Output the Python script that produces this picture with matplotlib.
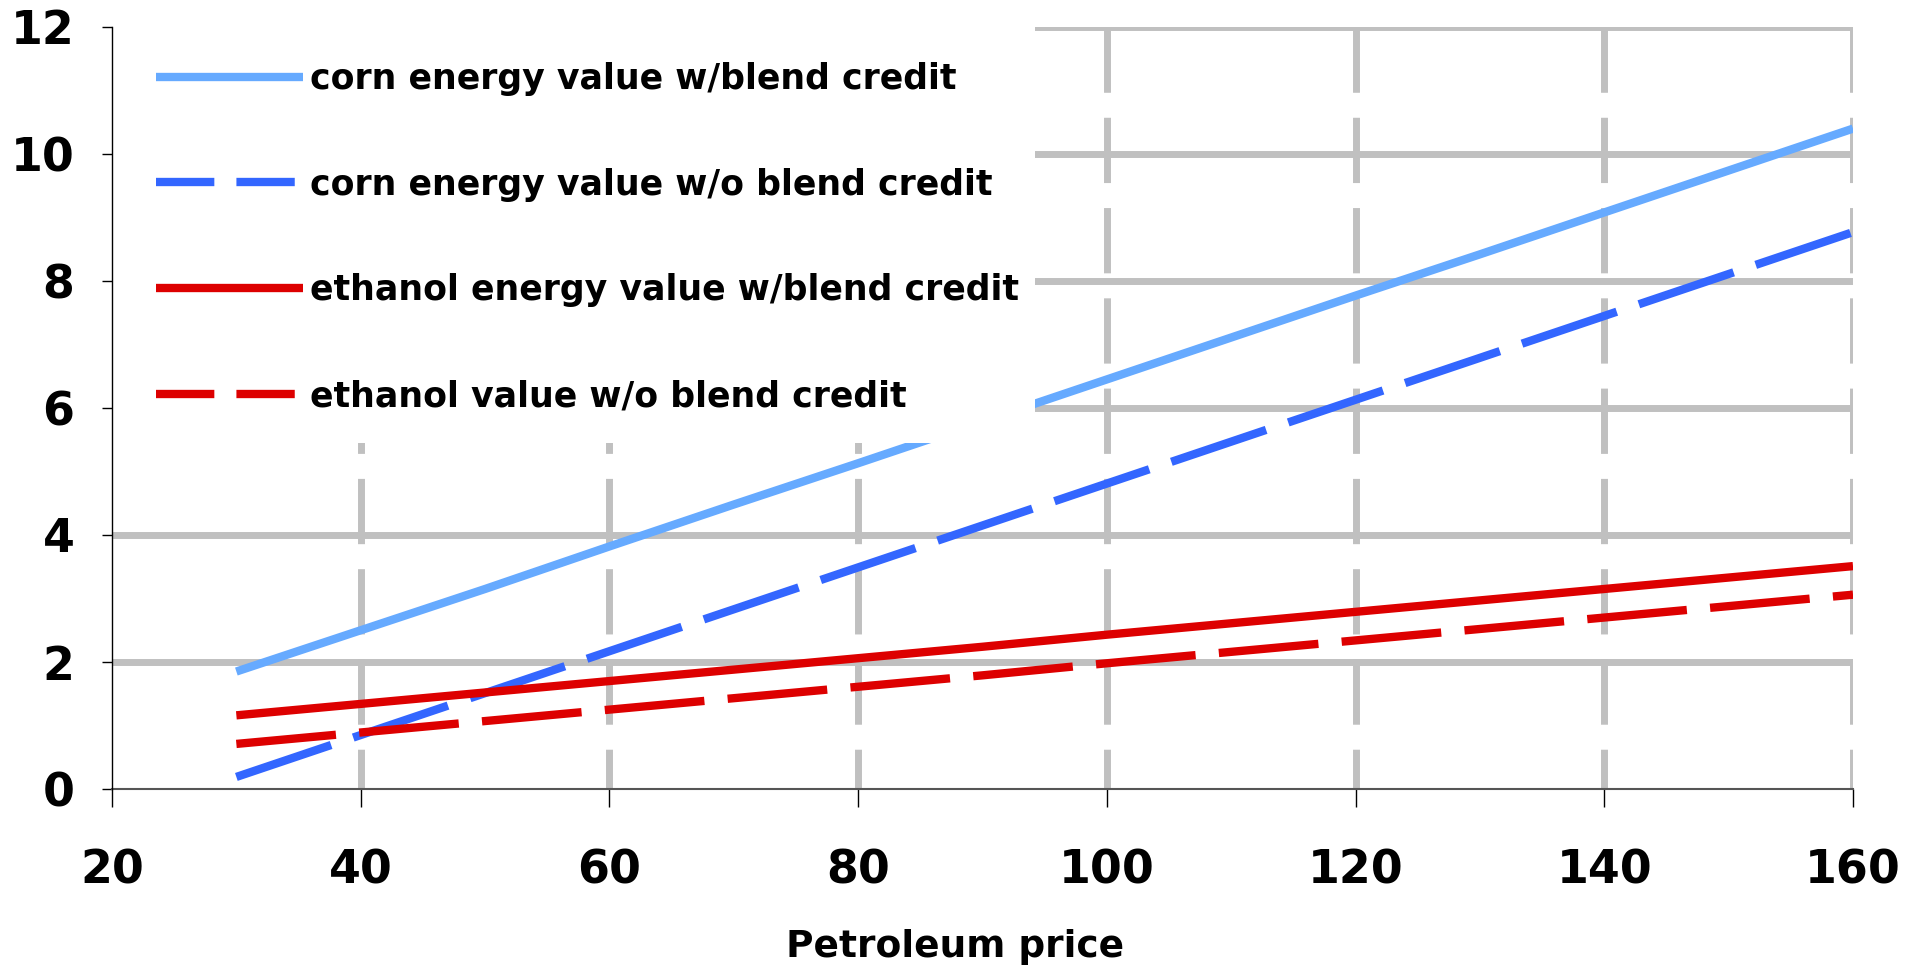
import matplotlib
matplotlib.use("Agg")
import matplotlib.pyplot as plt
from matplotlib.patches import Rectangle

plt.rcParams["font.family"] = ["DejaVu Sans"]
plt.rcParams["font.weight"] = "bold"

# petroleum price ($/bbl)
price = [30, 40, 50, 60, 70, 80, 90, 100, 110, 120, 130, 140, 150, 160]

corn_w_blend = [1.85, 2.50, 3.15, 3.82, 4.48, 5.13, 5.79, 6.45, 7.11, 7.77, 8.42, 9.08, 9.74, 10.40]
corn_wo_blend = [0.19, 0.85, 1.51, 2.17, 2.83, 3.49, 4.15, 4.81, 5.47, 6.13, 6.79, 7.45, 8.11, 8.77]
eth_w_blend = [1.16, 1.34, 1.52, 1.70, 1.88, 2.06, 2.24, 2.43, 2.61, 2.79, 2.97, 3.15, 3.33, 3.51]
eth_wo_blend = [0.71, 0.89, 1.07, 1.25, 1.43, 1.61, 1.79, 1.98, 2.16, 2.34, 2.52, 2.70, 2.88, 3.06]

labels = [
    "corn energy value w/blend credit",
    "corn energy value w/o blend credit",
    "ethanol energy value w/blend credit",
    "ethanol value w/o blend credit",
]

x_ticks = [20, 40, 60, 80, 100, 120, 140, 160]
y_ticks = [0, 2, 4, 6, 8, 10, 12]

fig = plt.figure(figsize=(19.17, 9.67), dpi=100)
ax = fig.add_axes([112 / 1917, 1 - 789 / 967, (1853 - 112) / 1917, (789 - 27) / 967])

lw = 6
dash = (12, 2.8)
ax.plot(price, corn_w_blend, color="#66AAFF", lw=lw, label=labels[0], solid_capstyle="butt")
ax.plot(price, corn_wo_blend, color="#3366FF", lw=lw, label=labels[1], dashes=dash, dash_capstyle="butt")
ax.plot(price, eth_w_blend, color="#DD0000", lw=lw, label=labels[2], solid_capstyle="butt")
ax.plot(price, eth_wo_blend, color="#DD0000", lw=lw, label=labels[3], dashes=dash, dash_capstyle="butt")

# grid: solid horizontal, dashed vertical (dashes start at the top)
for yv in y_ticks[1:]:
    ax.plot([20, 160], [yv, yv], color="#C0C0C0", lw=5, zorder=0.5, solid_capstyle="butt")
for xv in x_ticks[1:]:
    ax.plot([xv, xv], [12, 0], color="#C0C0C0", lw=5, zorder=0.5,
            dashes=(9.4, 3.6), dash_capstyle="butt")

ax.set_xlim(20, 160)
ax.set_ylim(0, 12)
ax.set_xticks(x_ticks)
ax.set_yticks(y_ticks)
ax.tick_params(axis="x", direction="out", length=13, width=1, pad=30, labelsize=33)
ax.tick_params(axis="y", direction="out", length=7, width=1, pad=20, labelsize=33)
for lab in ax.get_xticklabels() + ax.get_yticklabels():
    lab.set_fontweight("bold")

ax.spines["top"].set_visible(False)
ax.spines["right"].set_visible(False)
ax.spines["left"].set_color("black")
ax.spines["bottom"].set_color("#555555")
ax.spines["left"].set_linewidth(1)
ax.spines["bottom"].set_linewidth(1.5)
ax.spines["left"].set_zorder(6)

ax.set_xlabel("Petroleum price", fontsize=27, fontweight="bold")
ax.xaxis.set_label_coords(0.484, -0.184)

# white legend area covering grid and lines
ax.add_patch(Rectangle((0, 0.454), 0.530, 0.546, transform=ax.transAxes,
                       facecolor="white", edgecolor="none", zorder=4, clip_on=False))

leg = ax.legend(loc="upper left", bbox_to_anchor=(9 / 1741, 1), fontsize=25, frameon=False,
                borderaxespad=0, borderpad=1.0, labelspacing=2.07,
                handlelength=4.23, handletextpad=0.22)
leg.set_zorder(5)
for t in leg.get_texts():
    t.set_fontweight("bold")
for i in (1, 3):
    leg.get_lines()[i].set_dashes((7, 2.65))

fig.savefig("out.png", dpi=100)
